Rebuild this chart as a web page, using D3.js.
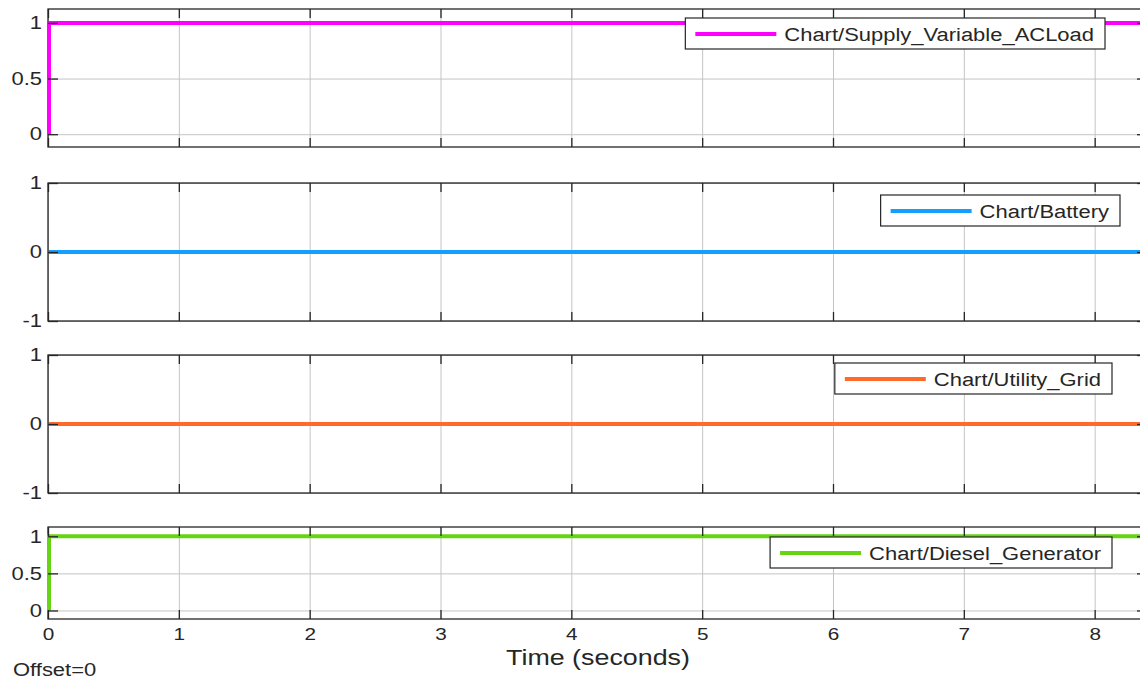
<!DOCTYPE html>
<html>
<head>
<meta charset="utf-8">
<script src="https://cdn.jsdelivr.net/npm/d3@7"></script>
<style>
  body { margin: 0; background: #fff; }
  text { font-family: "Liberation Sans", Arial, sans-serif; fill: #262626; }
  .grid line { stroke: #c4c4c4; stroke-width: 1; }
  .grid .domain { display: none; }
  .tk line { stroke: #262626; stroke-width: 1.3; }
  .tk .domain { display: none; }
</style>
</head>
<body>
<div id="chart"></div>
<script>
// scope data (time in seconds, signal values)
var time = [0, 0, 8.4];
var acLoad = [0, 1, 1];
var battery = [0, 0, 0];
var utilityGrid = [0, 0, 0];
var dieselGen = [0, 1, 1];

var seriesNames = ["Chart/Supply_Variable_ACLoad", "Chart/Battery", "Chart/Utility_Grid", "Chart/Diesel_Generator"];
var seriesColors = ["#ff00ff", "#139fff", "#ff6929", "#64d413"];
var xTicks = [0, 1, 2, 3, 4, 5, 6, 7, 8];
var yTicksStep = [0, 0.5, 1];
var yTicksSym = [-1, 0, 1];

var width = 1140, height = 680;
var left = 48, right = 1147;
var stretch = 1.22;

// panel layout: top, bottom, y-domain, ticks, legend box (right edge, top offset)
var panels = [
  {vals: acLoad, top: 9, bottom: 147, dom: [-0.115, 1.125], ticks: yTicksStep, legRight: 1105, legTop: 9},
  {vals: battery, top: 183, bottom: 321, dom: [-1, 1], ticks: yTicksSym, legRight: 1120, legTop: 12},
  {vals: utilityGrid, top: 355, bottom: 493, dom: [-1, 1], ticks: yTicksSym, legRight: 1112, legTop: 8},
  {vals: dieselGen, top: 527, bottom: 619, dom: [-0.115, 1.125], ticks: yTicksStep, legRight: 1112, legTop: 10}
];

var svg = d3.select("#chart").append("svg")
  .attr("width", width)
  .attr("height", height);

var x = d3.scaleLinear().domain([0, 8.4]).range([0, right - left]);
var w = right - left;

// widen text a little, the source picture is stretched sideways
function widen(sel) {
  sel.each(function() {
    var len = this.getComputedTextLength();
    d3.select(this).attr("textLength", len * stretch).attr("lengthAdjust", "spacingAndGlyphs");
  });
}

panels.forEach(function(p, i) {
  var h = p.bottom - p.top;
  var y = d3.scaleLinear().domain(p.dom).range([h, 0]);
  var g = svg.append("g").attr("transform", "translate(" + left + "," + p.top + ")");

  g.append("clipPath").attr("id", "clip" + i)
    .append("rect").attr("x", -1).attr("width", w + 1).attr("height", h);

  // gridlines
  g.append("g").attr("class", "grid")
    .attr("transform", "translate(0," + h + ")")
    .call(d3.axisBottom(x).tickValues(xTicks).tickSize(-h).tickFormat(""));
  g.append("g").attr("class", "grid")
    .call(d3.axisLeft(y).tickValues(p.ticks).tickSize(-w).tickFormat(""));

  // box
  g.append("rect")
    .attr("width", w).attr("height", h)
    .attr("fill", "none")
    .attr("stroke", "#262626")
    .attr("stroke-width", 1.3);

  // signal
  var pts = time.map(function(t, k) { return {t: t, v: p.vals[k]}; });
  var line = d3.line()
    .x(function(d) { return x(d.t) + (d.t === 0 ? 1 : 0); })
    .y(function(d) { return y(d.v); });
  g.append("path")
    .datum(pts)
    .attr("clip-path", "url(#clip" + i + ")")
    .attr("fill", "none")
    .attr("stroke", seriesColors[i])
    .attr("stroke-width", 4)
    .attr("d", line);

  // inward ticks on all sides
  var bottomAxis = d3.axisBottom(x).tickValues(xTicks).tickSize(-9).tickPadding(9);
  if (i < panels.length - 1) bottomAxis.tickFormat("");
  var bx = g.append("g").attr("class", "tk")
    .attr("transform", "translate(0," + h + ")")
    .call(bottomAxis);
  bx.selectAll("text").style("font-size", "17px").call(widen);

  g.append("g").attr("class", "tk")
    .call(d3.axisTop(x).tickValues(xTicks).tickSize(-9).tickFormat(""));

  var ly = g.append("g").attr("class", "tk")
    .call(d3.axisLeft(y).tickValues(p.ticks).tickSize(-10).tickPadding(6).tickFormat(function(d) { return String(d); }));
  ly.selectAll("text").style("font-size", "18px").call(widen);

  g.append("g").attr("class", "tk")
    .attr("transform", "translate(" + w + ",0)")
    .call(d3.axisRight(y).tickValues(p.ticks).tickSize(-10).tickFormat(""));

  // legend
  var lg = svg.append("g");
  var box = lg.append("rect")
    .attr("fill", "#fff")
    .attr("stroke", "#262626")
    .attr("stroke-width", 1.2);
  var txt = lg.append("text")
    .style("font-size", "18px")
    .text(seriesNames[i]);
  var tw = txt.node().getComputedTextLength() * stretch;
  widen(txt);
  var bw = 10 + 81 + 8 + tw + 11;
  var bxl = p.legRight - bw;
  var byt = p.top + p.legTop;
  box.attr("x", bxl).attr("y", byt).attr("width", bw).attr("height", 31);
  lg.append("line")
    .attr("x1", bxl + 10).attr("x2", bxl + 91)
    .attr("y1", byt + 16).attr("y2", byt + 16)
    .attr("stroke", seriesColors[i])
    .attr("stroke-width", 4);
  txt.attr("x", bxl + 99).attr("y", byt + 23);
});

svg.append("text")
  .attr("x", 598)
  .attr("y", 665)
  .attr("text-anchor", "middle")
  .style("font-size", "22px")
  .text("Time (seconds)")
  .call(widen);

svg.append("text")
  .attr("x", 13)
  .attr("y", 676)
  .style("font-size", "18px")
  .text("Offset=0")
  .call(widen);
</script>
</body>
</html>
